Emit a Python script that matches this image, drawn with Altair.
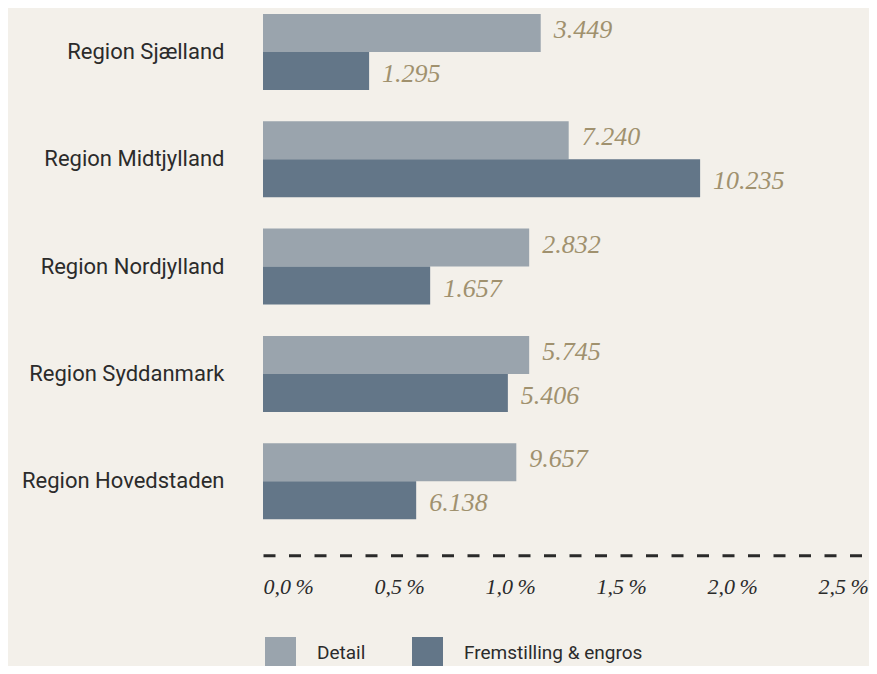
import altair as alt
import pandas as pd

regions = ["Region Sjælland", "Region Midtjylland", "Region Nordjylland",
           "Region Syddanmark", "Region Hovedstaden"]
series = ["Detail", "Fremstilling & engros"]
detail_pct = [1.251, 1.377, 1.199, 1.199, 1.141]
frem_pct = [0.478, 1.969, 0.753, 1.103, 0.690]
detail_count = ["3.449", "7.240", "2.832", "5.745", "9.657"]
frem_count = ["1.295", "10.235", "1.657", "5.406", "6.138"]
tick_values = [0.0, 0.5, 1.0, 1.5, 2.0, 2.5]

colors = ["#9aa4ad", "#637688"]
bg = "#f3f0ea"

rows = []
for i, r in enumerate(regions):
    rows.append(dict(region=r, series=series[0], pct=detail_pct[i], label=detail_count[i]))
    rows.append(dict(region=r, series=series[1], pct=frem_pct[i], label=frem_count[i]))
df = pd.DataFrame(rows)

plot_w = 606
px_per_pct = 222

y = alt.Y(
    "region:N", sort=regions,
    scale=alt.Scale(paddingInner=0.2917, paddingOuter=0.0559),
    axis=alt.Axis(title=None, domain=False, ticks=False, labelPadding=39,
                  labelFontSize=22, labelFont="Roboto", labelColor="#2b2b2b",
                  labelLimit=0),
)
yoff = alt.YOffset("series:N", sort=series,
                   scale=alt.Scale(paddingInner=0, paddingOuter=0))
x = alt.X(
    "pct:Q",
    scale=alt.Scale(domain=[0, plot_w / px_per_pct], nice=False, zero=True),
    axis=alt.Axis(
        values=tick_values,
        labelExpr="replace(format(datum.value, '.1f'), '.', ',') + '\u2009%'",
        title=None, grid=False, ticks=False, tickSize=0,
        domainDash=[12, 13.5], domainWidth=3, domainColor="#2a2a2a",
        offset=30, labelAlign="left", labelBaseline="middle", labelPadding=31,
        labelFont="Liberation Serif", labelFontStyle="italic", labelFontSize=22,
        labelColor="#2a2a2a", labelFlush=False, labelOverlap=False,
    ),
)

bars = alt.Chart(df).mark_bar().encode(
    x=x, y=y, yOffset=yoff,
    color=alt.Color(
        "series:N", sort=series,
        scale=alt.Scale(domain=series, range=colors),
        legend=alt.Legend(
            title=None, orient="none", legendX=2, legendY=629,
            direction="horizontal", symbolType="square", symbolSize=961,
            symbolStrokeWidth=0, symbolOpacity=1, labelFont="Roboto",
            labelFontSize=19, labelColor="#2b2b2b", labelOffset=21,
            labelLimit=400, columnPadding=46, padding=0,
        ),
    ),
)

text_style = dict(align="left", baseline="middle", dx=13, font="Liberation Serif",
                  fontStyle="italic", fontSize=26, color="#a0916e")

txt_d = alt.Chart(df).transform_filter(alt.datum.series == series[0]).mark_text(
    dy=-3, **text_style
).encode(x="pct:Q", y=alt.Y("region:N", sort=regions),
         yOffset=alt.YOffset("series:N", sort=series), text="label:N")

txt_f = alt.Chart(df).transform_filter(alt.datum.series == series[1]).mark_text(
    dy=3, **text_style
).encode(x="pct:Q", y=alt.Y("region:N", sort=regions),
         yOffset=alt.YOffset("series:N", sort=series), text="label:N")

chart = alt.layer(bars, txt_d, txt_f).properties(
    width=plot_w, height=517.2,
    padding={"left": 255, "top": 0, "right": 0, "bottom": 140.8},
    autosize=alt.AutoSizeParams(type="none"),
    background=bg,
).configure_view(stroke=None)

chart.save("out.html", embed_options={"renderer": "svg", "actions": False})
